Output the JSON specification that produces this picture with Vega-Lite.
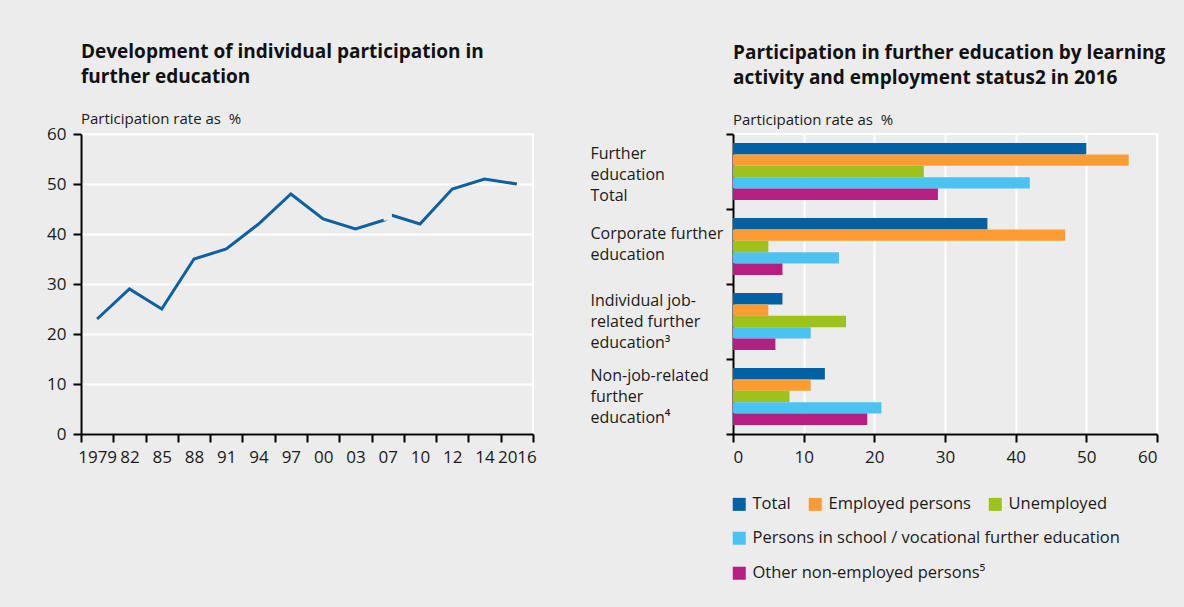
{
  "$schema": "https://vega.github.io/schema/vega-lite/v6.json",
  "background": "#ececec",
  "padding": {"left": 45, "top": 41, "right": 26, "bottom": 24},
  "spacing": 51,
  "config": {
    "font": "Open Sans",
    "view": {"stroke": "#ffffff", "strokeWidth": 2},
    "axis": {
      "labelFont": "Open Sans",
      "labelFontSize": 17,
      "labelColor": "#1a1a1a",
      "labelOverlap": false,
      "domainColor": "#000000",
      "domainWidth": 2,
      "tickColor": "#000000",
      "tickWidth": 2,
      "tickSize": 8,
      "gridColor": "#ffffff",
      "gridWidth": 2,
      "gridOpacity": 1
    },
    "title": {
      "font": "Open Sans",
      "fontSize": 19,
      "fontWeight": "bold",
      "color": "#111111",
      "anchor": "start",
      "frame": "group",
      "lineHeight": 25,
      "subtitleFont": "Open Sans",
      "subtitleFontSize": 15,
      "subtitleColor": "#1a1a1a",
      "subtitlePadding": 25,
      "offset": -1.5
    },
    "legend": {
      "labelFont": "Open Sans",
      "labelFontSize": 16.5,
      "labelColor": "#1a1a1a",
      "symbolType": "square",
      "symbolSize": 169,
      "symbolStrokeWidth": 0,
      "labelOffset": 5,
      "columnPadding": 16,
      "padding": 0,
      "labelLimit": 450
    }
  },
  "hconcat": [
    {
      "title": {"text": ["Development of individual participation in", "further education"], "subtitle": "Participation rate as\u00a0 %"},
      "width": 452,
      "height": 300,
      "data": {"values": [
        {"year": "1979", "rate": 23, "series": "A"},
        {"year": "82", "rate": 29, "series": "A"},
        {"year": "85", "rate": 25, "series": "A"},
        {"year": "88", "rate": 35, "series": "A"},
        {"year": "91", "rate": 37, "series": "A"},
        {"year": "94", "rate": 42, "series": "A"},
        {"year": "97", "rate": 48, "series": "A"},
        {"year": "00", "rate": 43, "series": "A"},
        {"year": "03", "rate": 41, "series": "A"},
        {"year": "07", "rate": 43, "series": "A"},
        {"year": "07", "rate": 44, "series": "B"},
        {"year": "10", "rate": 42, "series": "B"},
        {"year": "12", "rate": 49, "series": "B"},
        {"year": "14", "rate": 51, "series": "B"},
        {"year": "2016", "rate": 50, "series": "B"},
        {"year": "07", "rate": 43.5, "series": "gap"}
      ]},
      "encoding": {
        "x": {
          "field": "year", "type": "ordinal", "sort": null,
          "scale": {"type": "band", "domain": ["1979", "82", "85", "88", "91", "94", "97", "00", "03", "07", "10", "12", "14", "2016"], "paddingInner": 0, "paddingOuter": 0},
          "axis": {"title": null, "labelAngle": 0, "tickBand": "extent", "grid": false, "labelPadding": 7}
        },
        "y": {
          "field": "rate", "type": "quantitative",
          "scale": {"domain": [0, 60], "nice": false},
          "axis": {"title": null, "values": [0, 10, 20, 30, 40, 50, 60], "grid": true, "labelPadding": 7}
        }
      },
      "layer": [
        {"transform": [{"filter": "datum.series === 'A'"}], "mark": {"type": "line", "color": "#0d60a1", "strokeWidth": 3}},
        {"transform": [{"filter": "datum.series === 'B'"}], "mark": {"type": "line", "color": "#0d60a1", "strokeWidth": 3}},
        {"transform": [{"filter": "datum.series === 'gap'"}], "mark": {"type": "square", "color": "#ececec", "filled": true, "opacity": 1, "size": 70}}
      ]
    },
    {
      "title": {"text": ["Participation in further education by learning", "activity and employment status2 in 2016"], "subtitle": "Participation rate as\u00a0 %"},
      "width": 424,
      "height": 300,
      "data": {"values": [
        {"activity": "Further|education|Total", "status": "Total", "rate": 50},
        {"activity": "Further|education|Total", "status": "Employed persons", "rate": 56},
        {"activity": "Further|education|Total", "status": "Unemployed", "rate": 27},
        {"activity": "Further|education|Total", "status": "Persons in school / vocational further education", "rate": 42},
        {"activity": "Further|education|Total", "status": "Other non-employed persons\u2075", "rate": 29},
        {"activity": "Corporate further|education", "status": "Total", "rate": 36},
        {"activity": "Corporate further|education", "status": "Employed persons", "rate": 47},
        {"activity": "Corporate further|education", "status": "Unemployed", "rate": 5},
        {"activity": "Corporate further|education", "status": "Persons in school / vocational further education", "rate": 15},
        {"activity": "Corporate further|education", "status": "Other non-employed persons\u2075", "rate": 7},
        {"activity": "Individual job-|related further|education\u00b3", "status": "Total", "rate": 7},
        {"activity": "Individual job-|related further|education\u00b3", "status": "Employed persons", "rate": 5},
        {"activity": "Individual job-|related further|education\u00b3", "status": "Unemployed", "rate": 16},
        {"activity": "Individual job-|related further|education\u00b3", "status": "Persons in school / vocational further education", "rate": 11},
        {"activity": "Individual job-|related further|education\u00b3", "status": "Other non-employed persons\u2075", "rate": 6},
        {"activity": "Non-job-related|further|education\u2074", "status": "Total", "rate": 13},
        {"activity": "Non-job-related|further|education\u2074", "status": "Employed persons", "rate": 11},
        {"activity": "Non-job-related|further|education\u2074", "status": "Unemployed", "rate": 8},
        {"activity": "Non-job-related|further|education\u2074", "status": "Persons in school / vocational further education", "rate": 21},
        {"activity": "Non-job-related|further|education\u2074", "status": "Other non-employed persons\u2075", "rate": 19}
      ]},
      "encoding": {
        "y": {
          "field": "activity", "type": "nominal", "sort": null,
          "scale": {"domain": ["Further|education|Total", "Corporate further|education", "Individual job-|related further|education\u00b3", "Non-job-related|further|education\u2074"], "paddingInner": 0, "paddingOuter": 0},
          "axis": {
            "title": null,
            "labelExpr": "split(datum.label, '|')",
            "labelAlign": "left",
            "labelBaseline": "middle",
            "labelPadding": 136,
            "labelOffset": {"condition": [
              {"test": "datum.value == 'Further|education|Total'", "value": -18},
              {"test": "length(split(datum.value, '|')) == 3", "value": -21}
            ], "value": -13.5},
            "tickSize": 7,
            "labelFontSize": 16,
            "labelLineHeight": 21,
            "labelLimit": 200,
            "tickBand": "extent",
            "grid": false
          }
        },
        "x": {
          "field": "rate", "type": "quantitative",
          "scale": {"domain": [0, 60], "nice": false},
          "axis": {"title": null, "values": [0, 10, 20, 30, 40, 50, 60], "grid": true, "labelPadding": 7}
        },
        "yOffset": {
          "field": "status", "type": "nominal", "sort": null,
          "scale": {"domain": ["Total", "Employed persons", "Unemployed", "Persons in school / vocational further education", "Other non-employed persons\u2075"], "paddingInner": 0, "paddingOuter": 0.8}
        }
      },
      "layer": [
        {
          "transform": [{"filter": "datum.status === 'Total' || datum.status === 'Employed persons' || datum.status === 'Unemployed'"}],
          "mark": {"type": "bar"},
          "encoding": {"color": {"field": "status", "type": "nominal", "sort": null,
            "scale": {"domain": ["Total", "Employed persons", "Unemployed"], "range": ["#0062a4", "#ff9b33", "#9cc21b"]},
            "legend": {"title": null, "orient": "none", "legendX": -2, "legendY": 362, "direction": "horizontal"}}}
        },
        {
          "transform": [{"filter": "datum.status === 'Persons in school / vocational further education'"}],
          "mark": {"type": "bar"},
          "encoding": {"color": {"field": "status", "type": "nominal",
            "scale": {"domain": ["Persons in school / vocational further education"], "range": ["#4bc3f1"]},
            "legend": {"title": null, "orient": "none", "legendX": -2, "legendY": 396, "direction": "horizontal"}}}
        },
        {
          "transform": [{"filter": "datum.status === 'Other non-employed persons\u2075'"}],
          "mark": {"type": "bar"},
          "encoding": {"color": {"field": "status", "type": "nominal",
            "scale": {"domain": ["Other non-employed persons\u2075"], "range": ["#b61f82"]},
            "legend": {"title": null, "orient": "none", "legendX": -2, "legendY": 431, "direction": "horizontal"}}}
        }
      ],
      "resolve": {"scale": {"color": "independent"}}
    }
  ]
}
